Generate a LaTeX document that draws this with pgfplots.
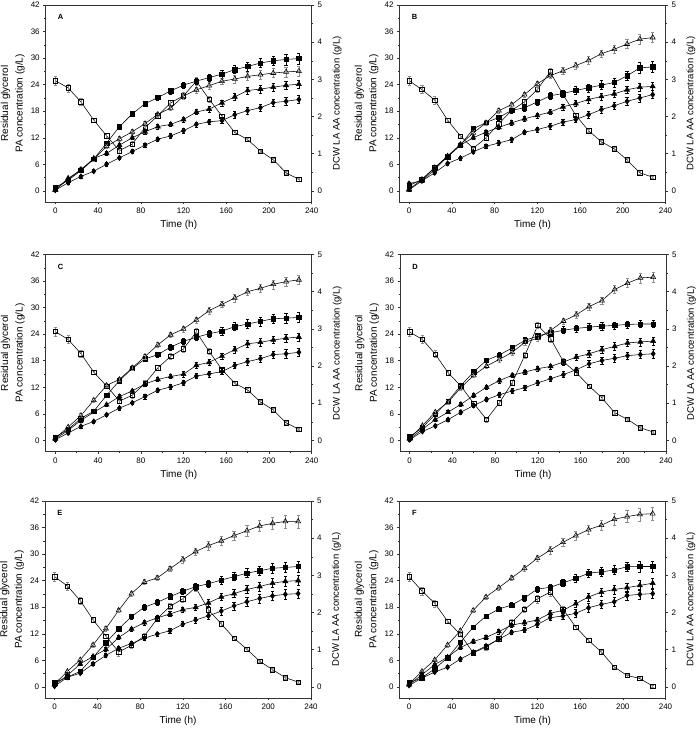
\documentclass[border=0pt]{standalone}
\usepackage{fontspec}
\setmainfont{Liberation Sans}
\usepackage{pgfplots}
\usepackage{pgfplotstable}
\pgfplotsset{compat=1.18}

% ---------- data ----------
\pgfplotstableread{
t gly glye pa pae
0 24.9 1.0 0.8 0.3
12 23.3 0.9 2.4 0.3
24 20.1 0.8 4.6 0.4
36 16.0 0.5 7.2 0.4
48 12.45 0.5 10.8 0.5
60 9.1 0.6 14.5 0.5
72 10.6 0.6 17.4 0.5
84 14.3 0.6 19.7 0.6
96 17.0 0.6 21.1 0.6
108 19.9 0.7 22.6 0.7
120 21.5 0.7 23.9 0.7
132 24.8 0.9 24.8 0.7
144 20.7 0.7 25.6 0.8
156 16.9 0.5 26.4 0.9
168 13.2 0.4 27.4 0.9
180 11.6 0.4 28.1 1.0
192 9.0 0.3 28.9 1.0
204 7.05 0.3 29.4 1.1
216 4.1 0.3 29.7 1.2
228 2.6 0.3 29.9 1.2
}\LA
\pgfplotstableread{
t dcw dcwe la aa e
0 0.03 0.03 0.03 0.02 0.03
12 0.31 0.04 0.34 0.22 0.03
24 0.58 0.05 0.56 0.39 0.04
36 0.85 0.05 0.875 0.53 0.04
48 1.2 0.06 1.01 0.72 0.05
60 1.4 0.06 1.23 0.89 0.05
72 1.59 0.06 1.43 1.06 0.05
84 1.81 0.07 1.59 1.23 0.06
96 2.06 0.07 1.73 1.39 0.06
108 2.23 0.07 1.79 1.48 0.06
120 2.55 0.08 1.92 1.62 0.07
132 2.72 0.08 2.12 1.79 0.07
144 2.83 0.09 2.2 1.86 0.08
156 2.95 0.09 2.37 1.89 0.08
168 3.01 0.10 2.53 2.05 0.09
180 3.08 0.10 2.7 2.16 0.09
192 3.125 0.11 2.74 2.24 0.10
204 3.17 0.12 2.79 2.375 0.10
216 3.2 0.13 2.84 2.41 0.11
228 3.22 0.13 2.87 2.46 0.11
}\RA
\pgfplotstableread{
t gly glye pa pae
0 24.9 1.0 1.2 0.3
12 22.9 0.9 2.6 0.3
24 20.5 0.8 5.3 0.4
36 16.0 0.5 7.7 0.4
48 12.4 0.5 10.35 0.5
60 9.6 0.6 14.0 0.5
72 12.0 0.6 15.45 0.5
84 15.2 0.6 16.6 0.6
96 18.2 0.6 18.2 0.6
108 20.1 0.7 18.8 0.7
120 22.9 0.7 20.1 0.7
132 26.9 0.9 21.5 0.7
144 21.8 0.7 22.0 0.8
156 17.1 0.5 22.7 0.9
168 13.6 0.4 23.3 0.9
180 11.1 0.4 23.9 1.0
192 9.5 0.3 24.5 1.0
204 7.0 0.3 26.0 1.1
216 4.1 0.3 27.8 1.2
228 3.1 0.3 28.0 1.2
}\LB
\pgfplotstableread{
t dcw dcwe la aa e
0 0.045 0.03 0.03 0.2 0.03
12 0.31 0.04 0.27 0.27 0.03
24 0.625 0.05 0.58 0.49 0.04
36 0.94 0.05 0.92 0.74 0.04
48 1.25 0.06 1.23 0.88 0.05
60 1.56 0.06 1.43 1.05 0.05
72 1.83 0.06 1.58 1.2 0.05
84 2.16 0.07 1.71 1.29 0.06
96 2.32 0.07 1.83 1.38 0.06
108 2.59 0.07 1.94 1.58 0.06
120 2.88 0.08 2.03 1.65 0.07
132 3.1 0.08 2.12 1.74 0.07
144 3.23 0.09 2.26 1.85 0.08
156 3.37 0.09 2.35 1.92 0.08
168 3.51 0.10 2.46 2.05 0.09
180 3.69 0.10 2.54 2.19 0.09
192 3.81 0.11 2.61 2.29 0.10
204 3.95 0.12 2.72 2.41 0.10
216 4.08 0.13 2.79 2.5 0.11
228 4.125 0.13 2.81 2.59 0.11
}\RB
\pgfplotstableread{
t gly glye pa pae
0 24.6 1.0 0.75 0.3
12 22.8 0.9 2.5 0.3
24 19.6 0.8 5.0 0.4
36 15.4 0.5 6.6 0.4
48 12.3 0.5 10.2 0.5
60 8.9 0.6 13.5 0.5
72 10.2 0.6 16.25 0.5
84 12.9 0.6 18.4 0.6
96 16.4 0.6 19.4 0.6
108 19.0 0.7 21.1 0.7
120 20.7 0.7 22.4 0.7
132 24.5 0.9 23.3 0.7
144 20.1 0.7 24.1 0.8
156 16.0 0.5 24.7 0.9
168 12.9 0.4 25.7 0.9
180 11.4 0.4 26.3 1.0
192 8.7 0.3 26.9 1.0
204 6.9 0.3 27.5 1.1
216 4.0 0.3 27.6 1.2
228 2.5 0.3 27.8 1.2
}\LC
\pgfplotstableread{
t dcw dcwe la aa e
0 0.06 0.03 0.04 0.02 0.03
12 0.36 0.04 0.27 0.2 0.03
24 0.67 0.05 0.54 0.38 0.04
36 1.08 0.05 0.76 0.51 0.04
48 1.48 0.06 0.96 0.69 0.05
60 1.64 0.06 1.18 0.87 0.05
72 1.95 0.06 1.33 1.01 0.05
84 2.26 0.07 1.52 1.18 0.06
96 2.57 0.07 1.64 1.35 0.06
108 2.84 0.07 1.72 1.44 0.06
120 3.0 0.08 1.78 1.55 0.07
132 3.24 0.08 2.02 1.73 0.07
144 3.49 0.09 2.1 1.79 0.08
156 3.66 0.09 2.27 1.85 0.08
168 3.83 0.10 2.44 2.02 0.09
180 4.0 0.10 2.6 2.12 0.09
192 4.09 0.11 2.64 2.2 0.10
204 4.2 0.12 2.7 2.31 0.10
216 4.27 0.13 2.75 2.33 0.11
228 4.32 0.13 2.78 2.37 0.11
}\RC
\pgfplotstableread{
t gly glye pa pae
0 24.5 1.0 0.8 0.3
12 22.8 0.9 2.9 0.3
24 19.5 0.8 5.9 0.4
36 15.3 0.5 8.9 0.4
48 12.3 0.5 12.4 0.5
60 8.35 0.6 15.5 0.5
72 4.75 0.6 18.1 0.5
84 8.5 0.6 19.3 0.6
96 13.0 0.6 20.9 0.6
108 19.3 0.7 22.6 0.7
120 26.0 0.7 23.6 0.7
132 23.0 0.9 24.3 0.7
144 17.8 0.7 24.9 0.8
156 15.3 0.5 25.3 0.8
168 12.3 0.4 25.6 0.8
180 9.6 0.4 25.8 0.8
192 6.25 0.3 26.0 0.8
204 4.75 0.3 26.2 0.8
216 2.85 0.3 26.3 0.8
228 1.9 0.3 26.3 0.8
}\LD
\pgfplotstableread{
t dcw dcwe la aa e
0 0.06 0.03 0.04 0.02 0.03
12 0.4 0.04 0.3 0.24 0.03
24 0.76 0.05 0.56 0.39 0.04
36 1.03 0.05 0.76 0.56 0.04
48 1.42 0.06 0.97 0.76 0.05
60 1.75 0.06 1.21 0.94 0.05
72 2.0 0.06 1.43 1.1 0.05
84 2.18 0.07 1.61 1.23 0.06
96 2.37 0.07 1.75 1.33 0.06
108 2.64 0.07 1.84 1.42 0.06
120 2.75 0.08 1.93 1.55 0.07
132 2.96 0.08 1.99 1.66 0.07
144 3.21 0.09 2.11 1.77 0.08
156 3.38 0.09 2.24 1.9 0.08
168 3.6 0.10 2.33 2.06 0.09
180 3.76 0.10 2.44 2.15 0.09
192 4.06 0.11 2.53 2.21 0.10
204 4.23 0.12 2.62 2.28 0.10
216 4.37 0.13 2.65 2.31 0.11
228 4.39 0.13 2.67 2.33 0.11
}\RD
\pgfplotstableread{
t gly glye pa pae
0 24.9 1.0 0.9 0.3
12 22.8 0.9 2.25 0.3
24 19.5 0.8 3.5 0.4
36 15.15 0.5 6.7 0.4
48 11.5 0.5 10.0 0.5
60 7.9 0.9 13.1 0.5
72 9.4 0.6 15.9 0.5
84 11.5 0.6 18.0 0.6
96 15.4 0.6 19.1 0.6
108 18.2 0.7 20.4 0.7
120 19.9 0.7 21.6 0.7
132 22.5 0.9 22.65 0.7
144 17.4 0.7 23.3 0.8
156 14.25 0.5 24.15 0.9
168 11.0 0.4 24.9 0.9
180 8.5 0.4 25.7 1.0
192 5.8 0.3 26.25 1.0
204 3.9 0.3 26.8 1.1
216 2.1 0.3 27.0 1.2
228 1.1 0.3 27.2 1.2
}\LE
\pgfplotstableread{
t dcw dcwe la aa e
0 0.08 0.03 0.06 0.02 0.03
12 0.42 0.04 0.31 0.26 0.03
24 0.73 0.05 0.62 0.37 0.04
36 1.13 0.05 0.82 0.62 0.04
48 1.57 0.06 1.01 0.85 0.05
60 2.06 0.06 1.33 1.04 0.05
72 2.51 0.06 1.56 1.17 0.05
84 2.82 0.07 1.73 1.31 0.06
96 2.93 0.07 1.86 1.42 0.06
108 3.18 0.08 1.96 1.51 0.07
120 3.42 0.09 2.08 1.69 0.07
132 3.64 0.10 2.14 1.8 0.08
144 3.8 0.11 2.26 1.91 0.09
156 3.93 0.12 2.42 2.04 0.10
168 4.07 0.13 2.51 2.18 0.11
180 4.2 0.14 2.62 2.29 0.11
192 4.33 0.15 2.7 2.38 0.12
204 4.4 0.16 2.79 2.45 0.12
216 4.45 0.17 2.84 2.49 0.13
228 4.45 0.18 2.86 2.51 0.13
}\RE
\pgfplotstableread{
t gly glye pa pae
0 24.9 1.0 0.9 0.3
12 21.7 0.9 2.1 0.3
24 18.9 0.8 4.1 0.4
36 14.85 0.5 6.6 0.4
48 11.85 0.5 10.1 0.5
60 7.7 0.6 13.5 0.5
72 9.0 0.6 16.0 0.5
84 10.9 0.6 17.6 0.6
96 14.6 0.6 18.5 0.6
108 17.5 0.7 20.1 0.7
120 19.9 0.9 22.1 0.7
132 21.4 0.9 22.5 0.7
144 17.6 0.7 23.5 0.8
156 13.5 0.5 24.5 0.9
168 10.5 0.4 25.7 0.9
180 7.9 0.4 26.0 1.0
192 4.5 0.3 26.4 1.0
204 2.6 0.3 27.15 1.1
216 1.9 0.3 27.2 1.2
228 0.2 0.3 27.2 1.2
}\LF
\pgfplotstableread{
t dcw dcwe la aa e
0 0.08 0.03 0.06 0.04 0.03
12 0.42 0.04 0.33 0.24 0.03
24 0.73 0.05 0.6 0.4 0.04
36 1.13 0.05 0.8 0.53 0.04
48 1.51 0.06 1.06 0.75 0.05
60 2.06 0.06 1.22 0.93 0.05
72 2.42 0.06 1.33 1.1 0.05
84 2.67 0.07 1.49 1.28 0.06
96 2.93 0.07 1.66 1.47 0.06
108 3.19 0.08 1.73 1.53 0.07
120 3.46 0.09 1.8 1.68 0.07
132 3.68 0.10 1.98 1.86 0.08
144 3.89 0.11 2.06 1.91 0.09
156 4.07 0.12 2.24 1.98 0.10
168 4.23 0.13 2.42 2.13 0.11
180 4.35 0.14 2.55 2.22 0.11
192 4.51 0.15 2.62 2.29 0.12
204 4.58 0.16 2.67 2.46 0.12
216 4.64 0.17 2.73 2.49 0.13
228 4.66 0.18 2.79 2.51 0.13
}\RF

% ---------- styles ----------
\pgfplotsset{
  base/.style={scale only axis, width=266pt, height=197pt, xmin=-9, xmax=240,
    anchor=south west, tick align=outside,
    major tick length=2.5pt, minor tick length=1.5pt,
    every tick/.style={black!80, line width=0.5pt},
    axis line style={black!80, line width=0.6pt},
    tick label style={font=\fontsize{8}{9}\selectfont},
    /pgf/number format/assume math mode=true,
    label style={font=\fontsize{10}{14.5}\selectfont}},
  leftax/.style={base, ymin=-2.5, ymax=42, ytick={0,6,...,42}, minor y tick num=1,
    xtick={0,40,...,240}, minor x tick num=1, xtick pos=bottom, ytick pos=left,
    xlabel={Time (h)},
    xlabel style={at={(axis description cs:0.5,-0.118)}, anchor=center},
    ylabel={Residual glycerol\\PA concentration (g/L)},
    ylabel style={align=center, at={(axis description cs:-0.066,0.5)}, anchor=south}},
  rightax/.style={base, ymin=-0.297619, ymax=5, ytick={0,1,...,5}, minor y tick num=1,
    axis y line*=right, axis x line=none,
    ylabel={DCW LA AA concentration (g/L)},
    ylabel style={font=\fontsize{9.5}{11}\selectfont, at={(axis description cs:1.066,0.5)}, rotate=0, anchor=north}},
  ser/.style={black, line width=0.55pt, mark size=2.2pt,
    error bars/y dir=both, error bars/y explicit,
    error bars/error bar style={line width=0.5pt},
    error bars/error mark options={rotate=90, mark size=1.6pt, line width=0.5pt}},
  opensq/.style={ser, mark=square, mark options={fill=white, solid},
    error bars/error bar style={black!45, line width=0.5pt},
    error bars/error mark options={rotate=90, mark size=1.6pt, black!45}},
  fillsq/.style={ser, mark=square*, mark options={solid}},
  opentri/.style={ser, mark=triangle, mark size=2.9pt, mark options={fill=white, solid},
    error bars/error bar style={black!45, line width=0.5pt},
    error bars/error mark options={rotate=90, mark size=1.6pt, black!45}},
  filltri/.style={ser, mark=triangle*, mark size=2.9pt, mark options={solid}},
  filldia/.style={ser, mark=diamond*, mark size=2.7pt, mark options={solid}},
}

\newcommand{\panel}[5]{%
  \begin{axis}[leftax, at={(#1,#2)}]
    \addplot[opensq] table[x=t, y=gly, y error=glye] {#4};
    \addplot[fillsq] table[x=t, y=pa, y error=pae] {#4};
    \node[font=\bfseries\fontsize{7.5}{8}\selectfont] at (axis cs:5,39.3) {#3};
  \end{axis}
  \begin{axis}[rightax, at={(#1,#2)}]
    \addplot[opentri] table[x=t, y=dcw, y error=dcwe] {#5};
    \addplot[filltri] table[x=t, y=la, y error=e] {#5};
    \addplot[filldia] table[x=t, y=aa, y error=e] {#5};
  \end{axis}}

\begin{document}
\begin{tikzpicture}
  \useasboundingbox (0,0) rectangle (696pt,731pt);
  \panel{45.7pt}{529pt}{A}{\LA}{\RA}
  \panel{399.5pt}{529pt}{B}{\LB}{\RB}
  \panel{45.7pt}{279.5pt}{C}{\LC}{\RC}
  \panel{400pt}{279.5pt}{D}{\LD}{\RD}
  \panel{45pt}{33pt}{E}{\LE}{\RE}
  \panel{399.5pt}{33pt}{F}{\LF}{\RF}
\end{tikzpicture}
\end{document}
